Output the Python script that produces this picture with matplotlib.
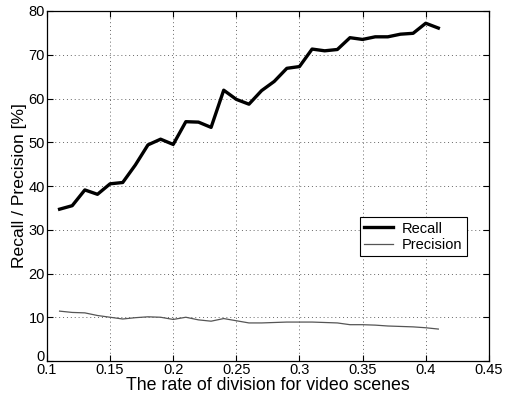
import matplotlib
matplotlib.use("Agg")
import matplotlib.pyplot as plt
import matplotlib.transforms as mtransforms
import numpy as np

x_vals = [0.11, 0.12, 0.13, 0.14, 0.15, 0.16, 0.17, 0.18, 0.19, 0.20,
          0.21, 0.22, 0.23, 0.24, 0.25, 0.26, 0.27, 0.28, 0.29, 0.30,
          0.31, 0.32, 0.33, 0.34, 0.35, 0.36, 0.37, 0.38, 0.39, 0.40, 0.41]
recall = [34.7, 35.5, 39.1, 38.1, 40.5, 40.8, 44.8, 49.4, 50.7, 49.5,
          54.7, 54.6, 53.4, 61.9, 59.8, 58.7, 61.8, 63.9, 66.9, 67.3,
          71.3, 70.9, 71.2, 73.9, 73.5, 74.1, 74.1, 74.7, 74.9, 77.2, 76.1]
precision = [11.4, 11.1, 11.0, 10.4, 10.0, 9.6, 9.9, 10.1, 10.0, 9.5,
             10.0, 9.4, 9.1, 9.7, 9.2, 8.7, 8.7, 8.8, 8.9, 8.9,
             8.9, 8.8, 8.7, 8.3, 8.3, 8.2, 8.0, 7.9, 7.8, 7.6, 7.3]
x_ticks = [0.1, 0.15, 0.2, 0.25, 0.3, 0.35, 0.4, 0.45]
x_ticklabels = ["0.1", "0.15", "0.2", "0.25", "0.3", "0.35", "0.4", "0.45"]
y_ticks = [0, 10, 20, 30, 40, 50, 60, 70, 80]

plt.rcParams['font.family'] = ['Liberation Sans', 'DejaVu Sans']

fig = plt.figure(figsize=(5.05, 4.0), dpi=100)
ax = fig.add_axes([0.093, 0.0975, 0.875, 0.875])

ax.plot(x_vals, recall, color='black', linewidth=2.4, label='Recall')
ax.plot(x_vals, precision, color='#555555', linewidth=0.9, label='Precision')

ax.set_xlim(0.1, 0.45)
ax.set_ylim(0, 80)
ax.set_xticks(x_ticks)
ax.set_xticklabels(x_ticklabels)
ax.set_yticks(y_ticks)
ax.tick_params(direction='in', labelsize=10.5, length=4, width=0.8,
               top=True, right=True, pad=1.5)
ax.grid(True, linestyle=(0, (1, 3)), color='#666666', linewidth=0.7)
for s in ax.spines.values():
    s.set_linewidth(0.9)

# nudge the "0" y tick label up slightly so it does not collide with "0.1"
ylab0 = ax.get_yticklabels()[0]
ylab0.set_transform(ylab0.get_transform() +
                    mtransforms.ScaledTranslation(0, 4 / 72, fig.dpi_scale_trans))

ax.set_xlabel('The rate of division for video scenes', fontsize=12.8, labelpad=0)
ax.set_ylabel('Recall / Precision [%]', fontsize=12.6, labelpad=1)

leg = ax.legend(loc='upper left', bbox_to_anchor=(0.708, 0.411),
                fancybox=False, edgecolor='black', framealpha=1,
                fontsize=10.5, handlelength=2.0, borderpad=0.3,
                labelspacing=0.15, handletextpad=0.6, borderaxespad=0)
leg.get_frame().set_linewidth(0.8)

fig.savefig('out.png', dpi=100)
